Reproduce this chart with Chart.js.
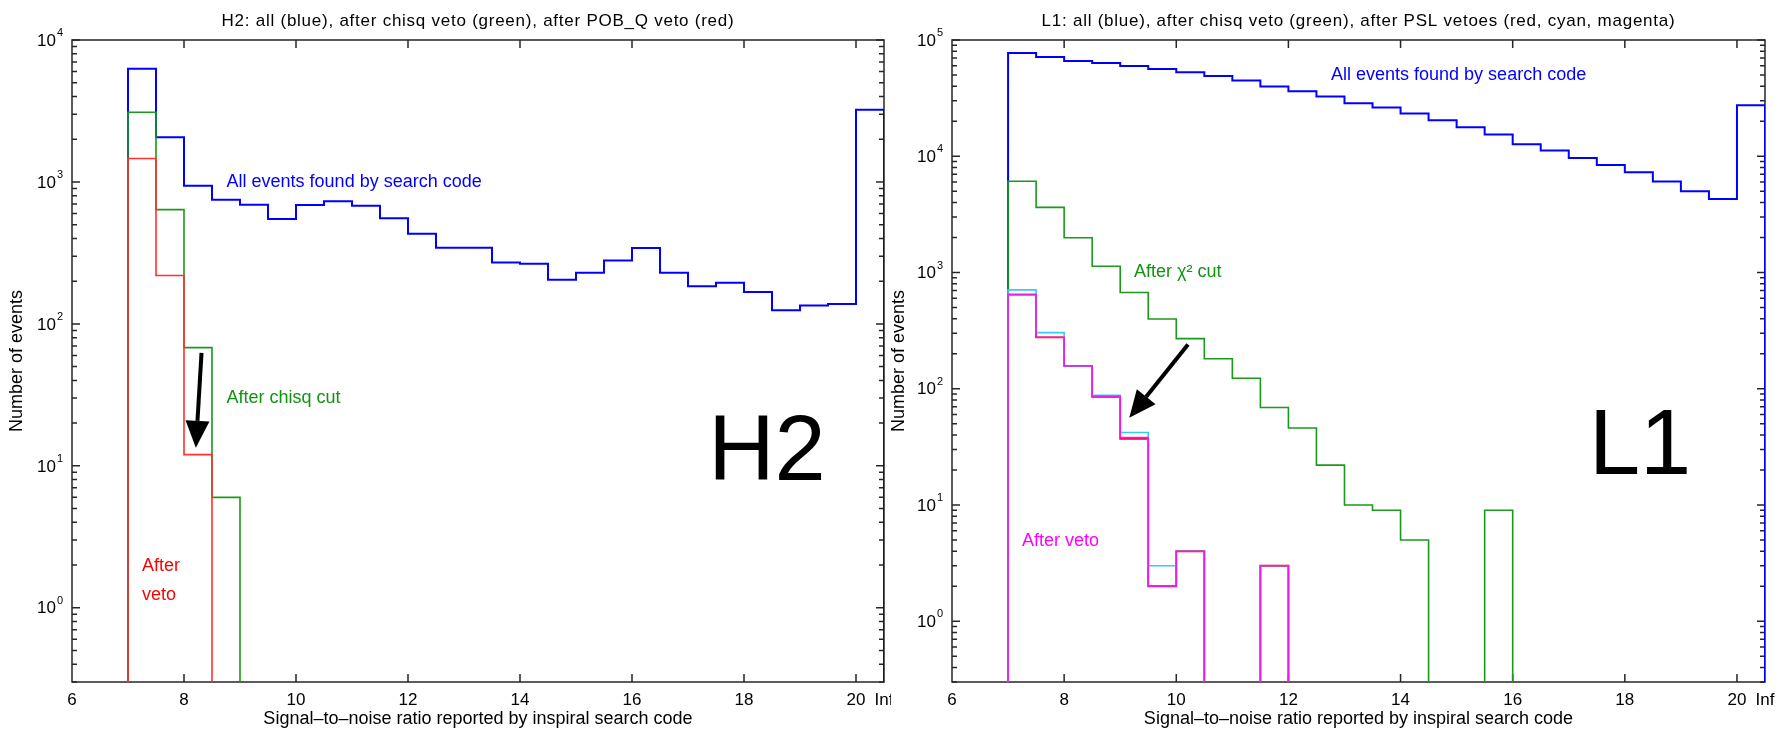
<!DOCTYPE html>
<html>
<head>
<meta charset="utf-8">
<script src="https://cdn.jsdelivr.net/npm/chart.js@4.4.1/dist/chart.umd.min.js"></script>
<style>
    html, body { margin: 0; padding: 0; background: #fff; }
    #wrap { position: relative; width: 1783px; height: 730px; }
    .panel { position: absolute; top: 0; height: 730px; }
    #p1 { left: 0; width: 891px; }
    #p2 { left: 882px; width: 901px; }
</style>
</head>
<body>
<div id="wrap">
    <div class="panel" id="p1"><canvas id="chartH2"></canvas></div>
    <div class="panel" id="p2"><canvas id="chartL1"></canvas></div>
</div>
<script>
// SNR bins, width 0.5; the last bin (20 and up) is the overflow shown as "Inf"
const binStarts = [7, 7.5, 8, 8.5, 9, 9.5, 10, 10.5, 11, 11.5, 12, 12.5, 13, 13.5,
                   14, 14.5, 15, 15.5, 16, 16.5, 17, 17.5, 18, 18.5, 19, 19.5, 20];
const binWidth = 0.5;
const xTickValues = [6, 8, 10, 12, 14, 16, 18, 20, 20.5];
const xTickLabels = ['6', '8', '10', '12', '14', '16', '18', '20', 'Inf'];

// H2 counts
const h2All = [6280, 2065, 942, 750, 692, 548, 689, 731, 681, 554, 432, 344, 344, 271,
               265, 205, 229, 280, 342, 229, 184, 195, 168, 125, 135, 138, 3220];
const h2Chisq = [3100, 638, 68, 6];
const h2Pobq = [1462, 219, 12];

// L1 counts
const l1All = [77300, 71300, 65900, 63300, 59700, 56200, 52900, 48900, 44900, 39800, 36300, 32600, 28600, 26300,
               23300, 20400, 17800, 15400, 12700, 11200, 9680, 8410, 7280, 6050, 4990, 4290, 27400];
const l1Chisq = [6090, 3630, 1990, 1130, 673, 398, 270, 181, 123, 69, 46, 22, 10, 9, 5, 0, 0, 9];
const l1Red = [646, 277, 157, 85, 37, 2, 4, 0, 0, 3];
const l1Cyan = [709, 304, 157, 88, 42, 3, 4, 0, 0, 3];
const l1Magenta = [646, 277, 157, 86, 38, 2, 4, 0, 0, 3];

const FLOOR = 0.01; // empty bins drop below the axis
const FONT = "'Liberation Sans', Arial, Helvetica, sans-serif";
Chart.defaults.font.family = FONT;

function steps(counts) {
    const pts = [{x: binStarts[0], y: FLOOR}];
    counts.forEach(function(c, i) {
        pts.push({x: binStarts[i], y: c > 0 ? c : FLOOR});
    });
    pts.push({x: binStarts[counts.length - 1] + binWidth, y: FLOOR});
    return pts;
}

function histSet(counts, color, width, order) {
    return {
        data: steps(counts),
        borderColor: color,
        borderWidth: width,
        pointRadius: 0,
        stepped: 'before',
        fill: false,
        order: order
    };
}

const panelDecor = {
    id: 'panelDecor',
    beforeDatasetsDraw(chart, args, opts) {
        const ctx = chart.ctx, a = chart.chartArea;
        const xs = chart.scales.x, ys = chart.scales.y;
        ctx.save();
        ctx.strokeStyle = '#262626';
        ctx.lineWidth = 1.5;
        ctx.strokeRect(a.left, a.top, a.right - a.left, a.bottom - a.top);
        ctx.beginPath();
        xTickValues.forEach(function(v) {
            if (v <= xs.min || v >= xs.max) return;
            const px = xs.getPixelForValue(v);
            ctx.moveTo(px, a.bottom); ctx.lineTo(px, a.bottom - 8);
            ctx.moveTo(px, a.top); ctx.lineTo(px, a.top + 8);
        });
        for (let e = -1; e <= 5; e++) {
            for (let m = 1; m <= 9; m++) {
                const v = m * Math.pow(10, e);
                if (v < ys.min || v > ys.max) continue;
                const py = ys.getPixelForValue(v);
                const len = m === 1 ? 8 : 5;
                ctx.moveTo(a.left, py); ctx.lineTo(a.left + len, py);
                ctx.moveTo(a.right, py); ctx.lineTo(a.right - len, py);
            }
        }
        ctx.stroke();
        ctx.restore();
    },
    afterDraw(chart, args, opts) {
        const ctx = chart.ctx, a = chart.chartArea;
        const xs = chart.scales.x, ys = chart.scales.y;
        ctx.save();
        // y tick labels 10^n
        ctx.fillStyle = '#000';
        for (let e = 0; e <= 5; e++) {
            const v = Math.pow(10, e);
            if (v < ys.min || v > ys.max * 1.001) continue;
            const py = ys.getPixelForValue(v);
            ctx.font = '17px ' + FONT;
            ctx.textAlign = 'right';
            ctx.textBaseline = 'middle';
            ctx.fillText('10', a.left - 16, py + 1);
            ctx.font = '11px ' + FONT;
            ctx.textAlign = 'left';
            ctx.fillText(String(e), a.left - 15, py - 7);
        }
        // title
        ctx.font = '17px ' + FONT;
        ctx.letterSpacing = '0.75px';
        ctx.textAlign = 'center';
        ctx.textBaseline = 'middle';
        ctx.fillText(opts.title, (a.left + a.right) / 2, 21);
        ctx.letterSpacing = '0px';
        // notes
        ctx.textAlign = 'left';
        opts.notes.forEach(function(n) {
            ctx.font = '18px ' + FONT;
            ctx.fillStyle = n.color;
            ctx.fillText(n.text, xs.getPixelForValue(n.x), ys.getPixelForValue(n.y));
        });
        // big detector name
        ctx.font = '92px ' + FONT;
        ctx.fillStyle = '#000';
        ctx.textBaseline = 'alphabetic';
        ctx.fillText(opts.big.text, xs.getPixelForValue(opts.big.x), ys.getPixelForValue(opts.big.y));
        // arrow
        const x0 = xs.getPixelForValue(opts.arrow.from[0]), y0 = ys.getPixelForValue(opts.arrow.from[1]);
        const x1 = xs.getPixelForValue(opts.arrow.to[0]), y1 = ys.getPixelForValue(opts.arrow.to[1]);
        const ang = Math.atan2(y1 - y0, x1 - x0);
        const headLen = 27, headHalf = 12;
        const bx = x1 - headLen * Math.cos(ang), by = y1 - headLen * Math.sin(ang);
        ctx.strokeStyle = '#000';
        ctx.lineWidth = 4;
        ctx.beginPath();
        ctx.moveTo(x0, y0);
        ctx.lineTo(bx, by);
        ctx.stroke();
        ctx.beginPath();
        ctx.moveTo(x1, y1);
        ctx.lineTo(bx + headHalf * Math.sin(ang), by - headHalf * Math.cos(ang));
        ctx.lineTo(bx - headHalf * Math.sin(ang), by + headHalf * Math.cos(ang));
        ctx.closePath();
        ctx.fill();
        ctx.restore();
    }
};

function makeChart(id, datasets, yMax, decor, yWidth, padRight) {
    return new Chart(document.getElementById(id), {
        type: 'line',
        data: { datasets: datasets },
        options: {
            animation: false,
            responsive: true,
            maintainAspectRatio: false,
            layout: { padding: { top: 40, right: padRight, bottom: 0, left: 0 } },
            plugins: {
                legend: { display: false },
                tooltip: { enabled: false },
                panelDecor: decor
            },
            scales: {
                x: {
                    type: 'linear',
                    min: 6,
                    max: 20.5,
                    grid: { display: false, drawTicks: false },
                    border: { display: false },
                    afterBuildTicks: function(s) {
                        s.ticks = xTickValues.map(function(v) { return {value: v}; });
                    },
                    afterFit: function(s) {
                        s.height = 48;
                        s.paddingLeft = 0;
                        s.paddingRight = 0;
                    },
                    ticks: {
                        padding: 8,
                        autoSkip: false,
                        maxRotation: 0,
                        color: '#000',
                        font: { size: 17 },
                        callback: function(v) { return xTickLabels[xTickValues.indexOf(v)]; }
                    },
                    title: {
                        display: true,
                        text: 'Signal\u2013to\u2013noise ratio reported by inspiral search code',
                        color: '#000',
                        font: { size: 18 },
                        padding: 0
                    }
                },
                y: {
                    type: 'logarithmic',
                    min: 0.3,
                    max: yMax,
                    grid: { display: false, drawTicks: false },
                    border: { display: false },
                    ticks: { display: false },
                    afterFit: function(s) {
                        s.width = yWidth;
                        s.paddingTop = 0;
                        s.paddingBottom = 0;
                    },
                    title: {
                        display: true,
                        text: 'Number of events',
                        color: '#000',
                        font: { size: 18 },
                        padding: { top: 6, bottom: 0 }
                    }
                }
            }
        },
        plugins: [panelDecor]
    });
}

makeChart('chartH2', [
    histSet(h2All, '#0000ff', 2, 3),
    histSet(h2Chisq, '#1a9a1a', 1.6, 2),
    histSet(h2Pobq, '#ff3030', 1.6, 1)
], 1e4, {
    title: 'H2: all (blue), after chisq veto (green), after POB_Q veto (red)',
    notes: [
        { text: 'All events found by search code', x: 8.76, y: 991, color: '#0000ff' },
        { text: 'After chisq cut', x: 8.76, y: 30.2, color: '#119311' },
        { text: 'After', x: 7.25, y: 1.98, color: '#ff0000' },
        { text: 'veto', x: 7.25, y: 1.23, color: '#ff0000' }
    ],
    big: { text: 'H2', x: 17.36, y: 8.0 },
    arrow: { from: [8.313, 62.4], to: [8.212, 13.4] }
}, 72, 7);

makeChart('chartL1', [
    histSet(l1All, '#0000ff', 2, 5),
    histSet(l1Chisq, '#1a9a1a', 1.6, 4),
    histSet(l1Red, '#ff0000', 1.8, 3),
    histSet(l1Cyan, '#33ccf5', 1.6, 2),
    histSet(l1Magenta, '#e81ee8', 1.6, 1)
], 1e5, {
    title: 'L1: all (blue), after chisq veto (green), after PSL vetoes (red, cyan, magenta)',
    notes: [
        { text: 'All events found by search code', x: 12.76, y: 49700, color: '#0000ff' },
        { text: 'After \u03c7\u00b2 cut', x: 9.246, y: 1000, color: '#119311' },
        { text: 'After veto', x: 7.25, y: 4.94, color: '#ff00ff' }
    ],
    big: { text: 'L1', x: 17.36, y: 18.3 },
    arrow: { from: [10.209, 240], to: [9.162, 56.3] }
}, 70, 18);
</script>
</body>
</html>
